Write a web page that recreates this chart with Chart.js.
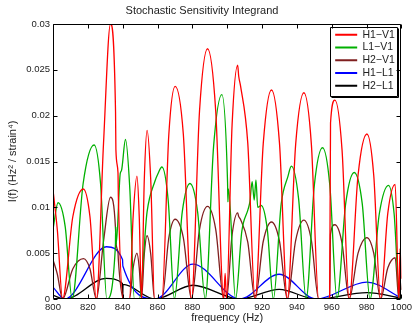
<!DOCTYPE html>
<html><head><meta charset="utf-8">
<script src="https://cdn.jsdelivr.net/npm/chart.js@4.4.1/dist/chart.umd.min.js"></script>
<style>html,body{margin:0;padding:0;background:#fff;}canvas{display:block;}</style>
</head><body>
<canvas id="c" width="415" height="325"></canvas>
<script>
const xTicks = [800, 820, 840, 860, 880, 900, 920, 940, 960, 980, 1000];
const xTickLabels = ['800','820','840','860','880','900','920','940','960','980','1000'];
const yTicks = [0, 0.005, 0.01, 0.015, 0.02, 0.025, 0.03];
const yTickLabels = ['0','0.005','0.01','0.015','0.02','0.025','0.03'];
const seriesNames = ['H1\u2212V1', 'L1\u2212V1', 'H2\u2212V1', 'H1\u2212L1', 'H2\u2212L1'];

const h1v1Freq = [800, 802.5, 805.5, 811.4, 817.4, 821.2, 824.9, 829.0, 833.0, 835.9, 836.1, 837.3, 837.5, 840.5, 843.9, 846.0, 848.2, 849.5, 850.8, 852.4, 854.0, 856.1, 858.3, 862.5, 866.5, 870.1, 874.8, 879.5, 884.1, 888.7, 893.4, 898.0, 898.8, 899.6, 902.8, 906.0, 906.6, 907.6, 911.8, 916.0, 920.7, 925.4, 930.0, 934.5, 939.3, 944.0, 948.3, 952.5, 958.8, 959.3, 961.8, 965.9, 970.0, 975.1, 980.2, 984.1, 988.0, 992.2, 996.4, 998.5, 999.2, 1000];
const h1v1Val  = [0.0119, 0.0075, 0, 0.0090, 0.0120, 0.0090, 0, 0.0170, 0.0300, 0.0204, 0.0163, 0.0138, 0.0113, 0, 0, 0.0090, 0.0134, 0.0090, 0, 0.0130, 0.0184, 0.0130, 0, 0, 0.0180, 0.0232, 0.0180, 0, 0.0205, 0.0273, 0.0205, 0, 0.0028, 0, 0.0190, 0.0255, 0.0243, 0.0233, 0.0170, 0, 0.0170, 0.0228, 0.0170, 0, 0.0169, 0.0225, 0.0169, 0, 0, 0.0192, 0.0217, 0.0163, 0, 0.0135, 0.0180, 0.0135, 0, 0.0094, 0.0125, 0, 0.0055, 0.0022];

const l1v1Freq = [800, 802.9, 807.0, 811.0, 817.3, 823.6, 827.3, 830.9, 835.8, 836.0, 836.3, 838.6, 839.3, 841.6, 844.1, 846.7, 849.5, 854.0, 858.6, 860.3, 862.5, 866.1, 869.7, 874.2, 878.6, 883.0, 887.4, 892.2, 896.9, 900.2, 900.4, 900.7, 904.8, 908.4, 912.0, 913.0, 914.3, 915.5, 916.5, 917.5, 919.5, 923.0, 926.5, 931.0, 934.9, 936.8, 941.0, 945.3, 950.0, 954.7, 958.9, 963.0, 968.0, 972.9, 977.5, 982.0, 987.3, 992.6, 995.8, 999.0, 1000];
const l1v1Val  = [0.0076, 0.0105, 0.0079, 0, 0.0126, 0.0168, 0.0126, 0, 0.0057, 0.0079, 0.0060, 0.0137, 0.0140, 0.0174, 0.0120, 0, 0, 0.0095, 0.0129, 0.0137, 0.0144, 0.0108, 0, 0.0095, 0.0126, 0.0095, 0, 0.0167, 0.0223, 0.0127, 0.0106, 0.0120, 0, 0.0074, 0.0098, 0.0106, 0.0128, 0.0108, 0.0130, 0.0100, 0.0102, 0.0076, 0, 0.0104, 0.0134, 0.0145, 0.0109, 0, 0.0124, 0.0165, 0.0124, 0, 0.0104, 0.0138, 0.0104, 0, 0.0093, 0.0124, 0.0093, 0, 0];

const h2v1Freq = [800, 802.5, 805.5, 811.4, 817.5, 821.2, 824.9, 829.0, 833.0, 835.9, 836.1, 837.3, 837.5, 840.5, 843.9, 846.0, 848.2, 849.5, 850.8, 852.4, 854.0, 856.1, 858.3, 862.5, 866.5, 870.1, 874.8, 879.5, 884.1, 888.7, 893.4, 898.0, 899.6, 902.8, 906.0, 906.6, 907.6, 911.8, 916.0, 920.7, 925.4, 930.0, 934.5, 939.3, 944.0, 948.3, 952.5, 958.8, 959.3, 961.8, 965.9, 970.0, 975.1, 980.2, 984.1, 988.0, 992.2, 996.4, 998.5, 999.2, 1000];
const h2v1Val  = [0.0043, 0.0027, 0, 0.0033, 0.0044, 0.0033, 0, 0.0063, 0.0111, 0.0076, 0.0062, 0.0051, 0.0043, 0, 0, 0.0034, 0.0050, 0.0034, 0, 0.0049, 0.0069, 0.0049, 0, 0, 0.0067, 0.0087, 0.0067, 0, 0.0076, 0.0101, 0.0076, 0, 0, 0.0070, 0.0094, 0.0090, 0.0087, 0.0062, 0, 0.0063, 0.0084, 0.0063, 0, 0.0064, 0.0086, 0.0064, 0, 0, 0.0071, 0.0081, 0.0061, 0, 0.0050, 0.0067, 0.0050, 0, 0.0034, 0.0045, 0, 0.0020, 0.0010];

const h1l1Freq = [800, 806.7, 830.7, 839.9, 840.1, 858.6, 880.3, 907.2, 929.8, 951.0, 980.2, 1000];
const h1l1Val  = [0.0013, 0, 0.0057, 0.0043, 0.0036, 0, 0.0038, 0, 0.0027, 0, 0.00185, 0.0001];

const h2l1Freq = [800, 807.0, 830.5, 839.9, 840.0, 840.2, 858.6, 880.3, 907.2, 929.8, 951.0, 980.2, 1000];
const h2l1Val  = [0.0004, 0, 0.00224, 0.0017, 0, 0.0016, 0, 0.0015, 0, 0.00104, 0, 0.0007, 0.0001];

const seriesColors = ['#ff0000', '#00b000', '#7f1f1f', '#0000ff', '#000000'];

function pts(f, v) { return f.map((x, i) => ({x: x, y: v[i]})); }

Chart.defaults.font.family = '"Liberation Sans", Arial, Helvetica, sans-serif';
Chart.defaults.color = '#222';

const frame = {
  id: 'frame',
  afterLayout(chart) {
    const lg = chart.legend, a = chart.chartArea;
    if (!lg) return;
    const left = a.right - 68.5;
    const top = a.top + 3.25;
    lg.left = left; lg.right = left + 66; lg.width = 66;
    lg.top = top; lg.bottom = top + 90; lg.height = 90;
  },
  afterDraw(chart) {
    const {ctx, chartArea: a, scales: {x, y}} = chart;
    ctx.save();
    ctx.strokeStyle = '#000';
    ctx.lineWidth = 1;
    const L = Math.round(a.left) + 0.5, R = Math.round(a.right) - 0.5;
    const T = Math.round(a.top) + 0.5, B = Math.round(a.bottom) - 0.5;
    ctx.beginPath();
    ctx.rect(L, T, R - L, B - T);
    xTicks.forEach(v => {
      const p = Math.round(x.getPixelForValue(v)) + 0.5;
      ctx.moveTo(p, B); ctx.lineTo(p, B - 4);
      ctx.moveTo(p, T); ctx.lineTo(p, T + 4);
    });
    yTicks.forEach(v => {
      const p = Math.round(y.getPixelForValue(v)) + 0.5;
      ctx.moveTo(L, p); ctx.lineTo(L + 4, p);
      ctx.moveTo(R, p); ctx.lineTo(R - 4, p);
    });
    ctx.stroke();
    const lx = Math.round(a.right - 71) + 0.5, ly = Math.round(a.top + 3) + 0.5;
    const lw = 67, lh = 69;
    ctx.beginPath();
    ctx.rect(lx, ly, lw, lh);
    ctx.stroke();
    ctx.beginPath();
    ctx.moveTo(lx + lw + 1, ly + 1); ctx.lineTo(lx + lw + 1, ly + lh + 1); ctx.lineTo(lx + 1, ly + lh + 1);
    ctx.stroke();
    ctx.restore();
  }
};

const datasets = [
  {label: seriesNames[0], data: pts(h1v1Freq, h1v1Val), borderColor: seriesColors[0]},
  {label: seriesNames[1], data: pts(l1v1Freq, l1v1Val), borderColor: seriesColors[1]},
  {label: seriesNames[2], data: pts(h2v1Freq, h2v1Val), borderColor: seriesColors[2]},
  {label: seriesNames[3], data: pts(h1l1Freq, h1l1Val), borderColor: seriesColors[3]},
  {label: seriesNames[4], data: pts(h2l1Freq, h2l1Val), borderColor: seriesColors[4]}
].map(d => Object.assign(d, {
  backgroundColor: d.borderColor, borderWidth: 1.3, pointRadius: 0, fill: false,
  cubicInterpolationMode: 'monotone', pointStyle: 'line'
}));

new Chart(document.getElementById('c'), {
  type: 'line',
  data: {datasets: datasets},
  options: {
    responsive: false, animation: false, devicePixelRatio: 1,
    layout: {padding: {left: 0, right: 11, top: 0, bottom: 0}},
    plugins: {
      title: {display: true, text: 'Stochastic Sensitivity Integrand', color: '#222',
        font: {size: 11, weight: 'normal'}, padding: {top: 4.4, bottom: 6.4}},
      legend: {
        display: true, position: 'chartArea', align: 'start',
        labels: {
          usePointStyle: true, pointStyle: 'line', pointStyleWidth: 22, padding: 2.25,
          color: '#222', font: {size: 10.5},
          sort: (a, b) => a.datasetIndex - b.datasetIndex,
          generateLabels(chart) {
            const items = Chart.defaults.plugins.legend.labels.generateLabels(chart);
            items.forEach(it => { it.lineWidth = 2; it.pointStyle = 'line'; });
            return items;
          }
        }
      },
      tooltip: {enabled: false}
    },
    scales: {
      x: {
        type: 'linear', min: 800, max: 1000,
        grid: {display: false, drawTicks: false}, border: {display: false},
        afterBuildTicks: s => { s.ticks = xTicks.map(v => ({value: v})); },
        afterFit: s => { s.height = 26; },
        ticks: {padding: 3, maxRotation: 0, autoSkip: false, font: {size: 9.5}, color: '#222',
          callback: (v, i) => xTickLabels[i]},
        title: {display: true, text: 'frequency (Hz)', font: {size: 11}, color: '#222', padding: {top: 0, bottom: 0.4}}
      },
      y: {
        type: 'linear', min: 0, max: 0.03,
        grid: {display: false, drawTicks: false}, border: {display: false},
        afterBuildTicks: s => { s.ticks = yTicks.map(v => ({value: v})); },
        afterFit: s => { s.width = 53; },
        ticks: {padding: 3, font: {size: 9.5}, color: '#222', callback: (v, i) => yTickLabels[i]},
        title: {display: true, text: 'I(f) (Hz\u00B2 / strain\u2074)', font: {size: 11}, color: '#222', padding: {top: 6.4, bottom: 0}}
      }
    }
  },
  plugins: [frame]
});
</script>
</body></html>
